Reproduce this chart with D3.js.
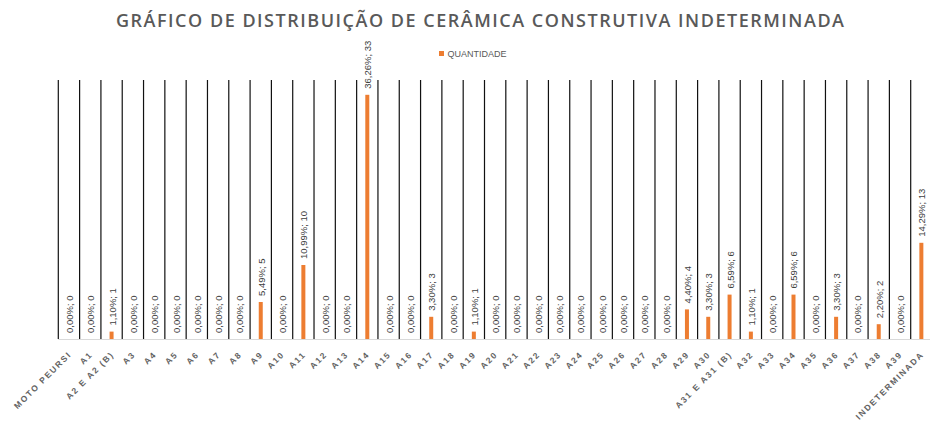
<!DOCTYPE html>
<html>
<head>
<meta charset="utf-8">
<script src="https://cdn.jsdelivr.net/npm/d3@7"></script>
<style>
  html, body { margin: 0; padding: 0; background: #fff; }
  svg { display: block; }
</style>
</head>
<body>
<svg id="chart" width="930" height="421"></svg>
<script>
// Categories (sites) and counts of indeterminate constructive ceramic
const categories = [
  "MOTO PEURSI", "A1", "A2 E A2 (B)", "A3", "A4", "A5", "A6", "A7", "A8", "A9",
  "A10", "A11", "A12", "A13", "A14", "A15", "A16", "A17", "A18", "A19",
  "A20", "A21", "A22", "A23", "A24", "A25", "A26", "A27", "A28", "A29",
  "A30", "A31 E A31 (B)", "A32", "A33", "A34", "A35", "A36", "A37", "A38", "A39",
  "INDETERMINADA"
];
const quantidade = [
  0, 0, 1, 0, 0, 0, 0, 0, 0, 5,
  0, 10, 0, 0, 33, 0, 0, 3, 0, 1,
  0, 0, 0, 0, 0, 0, 0, 0, 0, 4,
  3, 6, 1, 0, 6, 0, 3, 0, 2, 0,
  13
];
const seriesName = "QUANTIDADE";
const chartTitle = "GRÁFICO DE DISTRIBUIÇÃO DE CERÂMICA CONSTRUTIVA INDETERMINADA";
const yMax = 35;

const svg = d3.select("#chart");
const total = d3.sum(quantidade);

const plot = { left: 58.3, top: 80, bottom: 339 };
const step = 21.31;

const x = d3.scaleBand()
  .domain(categories)
  .range([plot.left, plot.left + step * categories.length])
  .paddingInner(0)
  .paddingOuter(0);

const y = d3.scaleLinear().domain([0, yMax]).range([plot.bottom, plot.top]);

// soft drop shadow for the separator lines
const defs = svg.append("defs");
const f = defs.append("filter").attr("id", "soft")
  .attr("x", "-300%").attr("y", "-10%").attr("width", "700%").attr("height", "120%");
f.append("feGaussianBlur").attr("stdDeviation", 1.2);

// Title
svg.append("text")
  .attr("x", 480).attr("y", 27)
  .attr("text-anchor", "middle")
  .attr("font-family", "'Open Sans', 'Liberation Sans', sans-serif")
  .attr("font-weight", 600)
  .attr("font-size", 18)
  .attr("fill", "#595959")
  .attr("textLength", 728)
  .attr("lengthAdjust", "spacing")
  .text(chartTitle);

// Legend
const legend = svg.append("g").attr("transform", "translate(439,51)");
legend.append("rect").attr("width", 5).attr("height", 5).attr("fill", "#ED7D31");
legend.append("text")
  .attr("x", 8.5).attr("y", 5.8)
  .attr("font-family", "'Liberation Sans', Arial, sans-serif")
  .attr("font-size", 9)
  .attr("fill", "#595959")
  .text(seriesName);

// Horizontal category axis line
svg.append("line")
  .attr("x1", plot.left).attr("x2", 930)
  .attr("y1", plot.bottom + 0.5).attr("y2", plot.bottom + 0.5)
  .attr("stroke", "#D9D9D9").attr("stroke-width", 1);

// Category separators with shadow
const sep = svg.append("g");
sep.selectAll("line.shadow")
  .data(categories)
  .join("line")
  .attr("class", "shadow")
  .attr("x1", d => x(d) + 0.8).attr("x2", d => x(d) + 0.8)
  .attr("y1", plot.top + 3).attr("y2", plot.bottom + 8)
  .attr("stroke", "#6e6e6e")
  .attr("stroke-width", 3)
  .attr("filter", "url(#soft)");
sep.selectAll("line.rule")
  .data(categories)
  .join("line")
  .attr("class", "rule")
  .attr("x1", d => x(d)).attr("x2", d => x(d))
  .attr("y1", plot.top).attr("y2", plot.bottom)
  .attr("stroke", "#111")
  .attr("stroke-width", 1.2);

// Bars
const barW = 4;
svg.append("g").selectAll("rect")
  .data(categories)
  .join("rect")
  .attr("x", d => x(d) + x.bandwidth() / 2 - barW / 2)
  .attr("y", (d, i) => y(quantidade[i]))
  .attr("width", barW)
  .attr("height", (d, i) => y(0) - y(quantidade[i]))
  .attr("fill", "#ED7D31");

// Data labels: "percent; count"
const fmtPct = v => (v / total * 100).toFixed(2).replace(".", ",") + "%";
svg.append("g").selectAll("text")
  .data(categories)
  .join("text")
  .attr("transform", (d, i) =>
    `translate(${x(d) + x.bandwidth() / 2 + 0.5},${y(quantidade[i]) - 6}) rotate(-90)`)
  .attr("dominant-baseline", "central")
  .attr("font-family", "'Liberation Sans', Arial, sans-serif")
  .attr("font-size", 9.5)
  .attr("fill", "#404040")
  .text((d, i) => `${fmtPct(quantidade[i])}; ${quantidade[i]}`);

// Category labels, rotated
svg.append("g").selectAll("text")
  .data(categories)
  .join("text")
  .attr("transform", d =>
    `translate(${x(d) + x.bandwidth() / 2 + 3},${plot.bottom + 16}) rotate(-45)`)
  .attr("text-anchor", "end")
  .attr("font-family", "'Liberation Sans', Arial, sans-serif")
  .attr("font-weight", "bold")
  .attr("font-size", 8.5)
  .attr("letter-spacing", 1.6)
  .attr("fill", "#636363")
  .text(d => d);
</script>
</body>
</html>
